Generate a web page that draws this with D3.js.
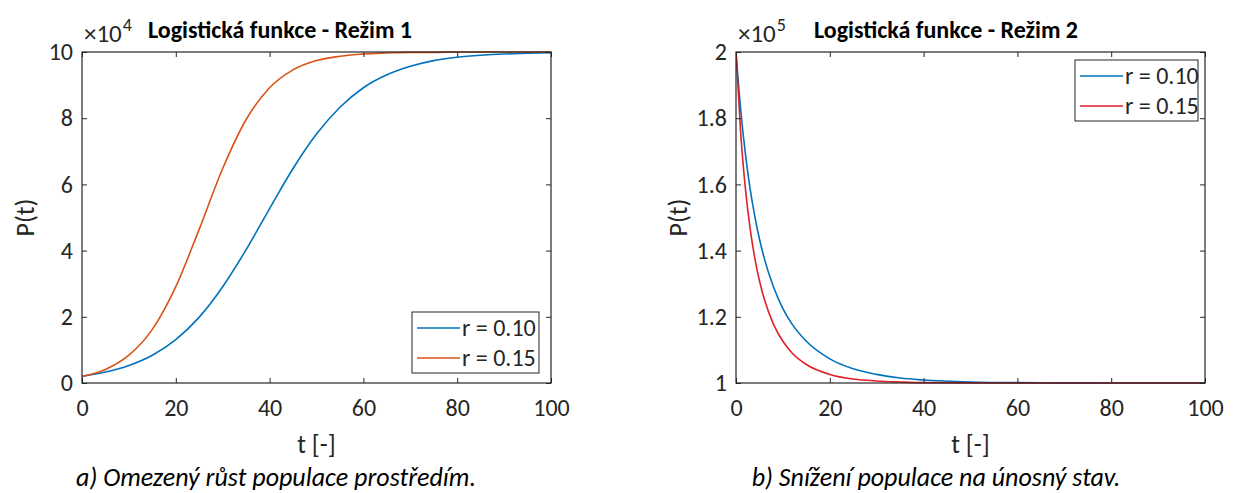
<!DOCTYPE html>
<html>
<head>
<meta charset="utf-8">
<script src="https://cdn.jsdelivr.net/npm/d3@7"></script>
<style>
  html, body { margin: 0; padding: 0; background: #fff; }
  svg text { font-family: Carlito, Lato, "Open Sans", sans-serif; }
</style>
</head>
<body>
<svg id="chart" width="1233" height="493"></svg>
<script>
// ---- Regime 1: bounded growth (values in units of 10^4) ----
const tGrowth = [0, 5, 10, 15, 20, 25, 30, 35, 40, 45, 50, 55, 60, 65, 70, 75, 80, 85, 90, 95, 100];
const growthR010 = [0.20, 0.33, 0.53, 0.84, 1.31, 1.99, 2.91, 4.03, 5.27, 6.48, 7.52, 8.33, 8.92, 9.31, 9.57, 9.74, 9.84, 9.90, 9.94, 9.96, 9.98];
const growthR015 = [0.20, 0.41, 0.84, 1.62, 2.91, 4.65, 6.48, 7.96, 8.92, 9.46, 9.74, 9.87, 9.94, 9.97, 9.99, 9.99, 10.0, 10.0, 10.0, 10.0, 10.0];

// ---- Regime 2: decline to carrying capacity (values in units of 10^5) ----
const tDecline = [0, 1, 2, 3, 4, 5, 6, 8, 10, 12, 15, 20, 25, 30, 35, 40, 50, 60, 70, 80, 90, 100];
const declineR010 = [2.0, 1.826, 1.693, 1.588, 1.504, 1.435, 1.378, 1.290, 1.225, 1.177, 1.126, 1.073, 1.043, 1.026, 1.015, 1.009, 1.003, 1.001, 1.0005, 1.0002, 1.0001, 1.0];
const declineR015 = [2.0, 1.755, 1.588, 1.468, 1.378, 1.309, 1.255, 1.177, 1.126, 1.090, 1.056, 1.026, 1.012, 1.006, 1.003, 1.001, 1.0003, 1.0001, 1.0, 1.0, 1.0, 1.0];

// ---- Axes, labels ----
const timeTicks = [0, 20, 40, 60, 80, 100];
const growthTicks = [0, 2, 4, 6, 8, 10];
const declineTicks = [1, 1.2, 1.4, 1.6, 1.8, 2];
const legendLabels = ["r = 0.10", "r = 0.15"];

const svg = d3.select("#chart");
const AXIS = "#262626";
const TICK_FONT = "24px";
const LABEL_FONT = "26px";

function drawPanel(p) {
  const x = d3.scaleLinear().domain([0, 100]).range([p.left, p.right]);
  const y = d3.scaleLinear().domain(p.yDomain).range([p.bottom, p.top]);
  const g = svg.append("g");

  const clipId = "clip-" + p.id;
  svg.append("clipPath").attr("id", clipId)
    .append("rect")
    .attr("x", p.left).attr("y", p.top - 1)
    .attr("width", p.right - p.left).attr("height", p.bottom - p.top + 2);

  // curves
  const line = d3.line()
    .x(d => x(d[0])).y(d => y(d[1]))
    .curve(d3.curveMonotoneX);
  p.series.forEach(s => {
    g.append("path")
      .datum(p.t.map((t, i) => [t, s.values[i]]))
      .attr("clip-path", `url(#${clipId})`)
      .attr("fill", "none")
      .attr("stroke", s.color)
      .attr("stroke-width", 1.6)
      .attr("d", line);
  });

  // axes with inward ticks on all four sides
  const tickStyle = sel => {
    sel.select(".domain").remove();
    sel.selectAll(".tick line").attr("stroke", AXIS);
    sel.selectAll(".tick text")
      .attr("fill", AXIS)
      .style("font-size", TICK_FONT);
  };
  g.append("g").attr("transform", `translate(0,${p.bottom})`)
    .call(d3.axisBottom(x).tickValues(timeTicks).tickSizeInner(-5).tickSizeOuter(0).tickPadding(16))
    .call(tickStyle);
  g.append("g").attr("transform", `translate(0,${p.top})`)
    .call(d3.axisTop(x).tickValues(timeTicks).tickSizeInner(-5).tickSizeOuter(0).tickFormat(""))
    .call(tickStyle);
  g.append("g").attr("transform", `translate(${p.left},0)`)
    .call(d3.axisLeft(y).tickValues(p.yTicks).tickSizeInner(-5).tickSizeOuter(0).tickPadding(9)
      .tickFormat(p.yFormat))
    .call(tickStyle);
  g.append("g").attr("transform", `translate(${p.right},0)`)
    .call(d3.axisRight(y).tickValues(p.yTicks).tickSizeInner(-5).tickSizeOuter(0).tickFormat(""))
    .call(tickStyle);

  // frame
  g.append("rect")
    .attr("x", p.left).attr("y", p.top)
    .attr("width", p.right - p.left).attr("height", p.bottom - p.top)
    .attr("fill", "none").attr("stroke", AXIS).attr("stroke-width", 1.2);

  // exponent multiplier
  const ex = g.append("text")
    .attr("x", p.left + 2).attr("y", p.top - 10)
    .attr("fill", AXIS).style("font-size", "25px")
    .text("\u00D710");
  ex.append("tspan").attr("dx", 1).attr("dy", -11).style("font-size", "18px").text(p.exponent);

  // title
  g.append("text")
    .attr("x", p.titleX).attr("y", p.top - 14)
    .attr("text-anchor", "middle")
    .attr("fill", "#000")
    .style("font-size", "24px").style("font-weight", "bold")
    .text(p.title);

  // axis labels
  g.append("text")
    .attr("x", (p.left + p.right) / 2).attr("y", p.bottom + 70)
    .attr("text-anchor", "middle").attr("fill", AXIS)
    .style("font-size", LABEL_FONT)
    .text("t [-]");
  g.append("text")
    .attr("transform", `translate(${p.ylabelX},${(p.top + p.bottom) / 2}) rotate(-90)`)
    .attr("text-anchor", "middle").attr("dy", "0.35em").attr("fill", AXIS)
    .style("font-size", LABEL_FONT)
    .text("P(t)");

  // legend
  const lg = g.append("g").attr("transform", `translate(${p.legend.x},${p.legend.y})`);
  lg.append("rect")
    .attr("width", p.legend.w).attr("height", p.legend.h)
    .attr("fill", "#fff").attr("stroke", AXIS).attr("stroke-width", 1);
  p.series.forEach((s, i) => {
    const cy = 16 + i * 30;
    lg.append("line")
      .attr("x1", 5).attr("x2", 48).attr("y1", cy).attr("y2", cy)
      .attr("stroke", s.color).attr("stroke-width", 1.6);
    lg.append("text")
      .attr("x", 50).attr("y", cy).attr("dy", "0.35em")
      .attr("fill", AXIS).style("font-size", TICK_FONT)
      .text(legendLabels[i]);
  });

  // caption
  svg.append("text")
    .attr("x", p.captionX).attr("y", 486)
    .attr("text-anchor", "middle").attr("fill", "#000")
    .style("font-size", "26px").style("font-style", "italic")
    .text(p.caption);
}

drawPanel({
  id: "a", left: 82, right: 551, top: 52, bottom: 383,
  yDomain: [0, 10], yTicks: growthTicks, yFormat: d3.format("d"),
  exponent: "4",
  title: "Logistická funkce - Režim 1",
  titleX: 280,
  t: tGrowth,
  series: [
    { values: growthR010, color: "#0072BD" },
    { values: growthR015, color: "#D95319" }
  ],
  ylabelX: 25,
  legend: { x: 412, y: 312, w: 127, h: 61 },
  captionX: 276,
  caption: "a) Omezený růst populace prostředím."
});

drawPanel({
  id: "b", left: 736, right: 1205, top: 52, bottom: 383,
  yDomain: [1, 2], yTicks: declineTicks, yFormat: d => d === 1 || d === 2 ? String(d) : d.toFixed(1),
  exponent: "5",
  title: "Logistická funkce - Režim 2",
  titleX: 946,
  t: tDecline,
  series: [
    { values: declineR010, color: "#0072BD" },
    { values: declineR015, color: "#E0202A" }
  ],
  ylabelX: 678,
  legend: { x: 1075, y: 60, w: 123, h: 61 },
  captionX: 936,
  caption: "b) Snížení populace na únosný stav."
});
</script>
</body>
</html>
